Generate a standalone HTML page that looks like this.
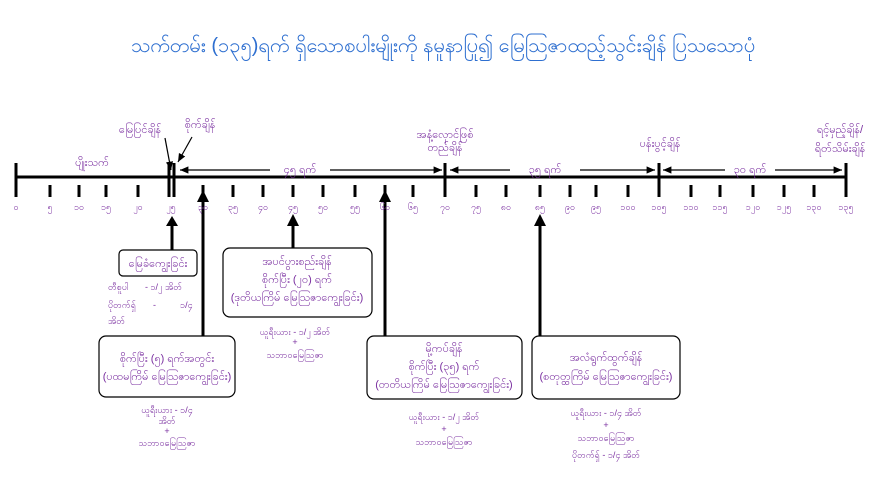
<!DOCTYPE html>
<html><head><meta charset="utf-8"><style>
body{margin:0;background:#fff;width:887px;height:498px;overflow:hidden;font-family:"Liberation Sans","Noto Sans CJK SC",sans-serif;}
svg text{font-family:"Liberation Sans","Noto Sans CJK SC",sans-serif;fill:#7a2fa0;}
</style></head><body>
<svg width="887" height="498" viewBox="0 0 887 498" xmlns="http://www.w3.org/2000/svg">
<defs><marker id="a" markerWidth="8" markerHeight="8" refX="7" refY="4" orient="auto"><path d="M0,1 L7,4 L0,7 z" fill="#000"/></marker></defs>
<text x="443" y="52" font-size="20" text-anchor="middle" style="fill:#2e6fd0">သက်တမ်း (၁၃၅)ရက် ရှိသောစပါးမျိုးကို နမူနာပြု၍ မြေဩဇာထည့်သွင်းချိန် ပြသသောပုံ</text>
<g stroke="#000" stroke-width="3" fill="none">
<line x1="16" y1="177" x2="846" y2="177"/>
<line x1="16" y1="163" x2="16" y2="197"/>
<line x1="169" y1="163" x2="169" y2="197"/>
<line x1="174" y1="163" x2="174" y2="197"/>
<line x1="445" y1="163" x2="445" y2="197"/>
<line x1="659" y1="163" x2="659" y2="197"/>
<line x1="846" y1="163" x2="846" y2="197"/>
<path d="M50 185V197M79 185V197M106 185V197M138 185V197M203 185V197M233 185V197M263 185V197M293 185V197M323 185V197M355 185V197M385 185V197M413 185V197M476 185V197M506 185V197M540 185V197M570 185V197M596 185V197M628 185V197M691 185V197M720 185V197M753 185V197M784 185V197M814 185V197"/>
<line x1="172" y1="225" x2="172" y2="250"/>
<line x1="203" y1="200" x2="203" y2="336"/>
<line x1="293" y1="225" x2="293" y2="248"/>
<line x1="385" y1="200" x2="385" y2="336"/>
<line x1="540" y1="225" x2="540" y2="336"/>
</g>
<g fill="#000"><path d="M166,226 L172,216 L178,226z"/><path d="M197,202 L203,190 L209,202z"/><path d="M287,226 L293,214 L299,226z"/><path d="M379,202 L385,190 L391,202z"/><path d="M534,226 L540,214 L546,226z"/></g>
<g stroke="#000" stroke-width="1.2" fill="none" marker-end="url(#a)">
<line x1="270" y1="170" x2="180" y2="170"/><line x1="330" y1="170" x2="442" y2="170"/>
<line x1="510" y1="170" x2="450" y2="170"/><line x1="580" y1="170" x2="655" y2="170"/>
<line x1="725" y1="170" x2="663" y2="170"/><line x1="775" y1="170" x2="842" y2="170"/>
<line x1="165" y1="138" x2="171" y2="170"/><line x1="192" y1="137" x2="178" y2="162"/>
</g>
<g font-size="11">
<text x="140" y="133" text-anchor="middle">မြေပြင်ချိန်</text>
<text x="200" y="128" text-anchor="middle">စိုက်ချိန်</text>
<text x="92" y="166" text-anchor="middle">ပျိုးသက်</text>
<text x="300" y="173" text-anchor="middle">၄၅ ရက်</text>
<text x="445" y="138" text-anchor="middle">အနံ့လှောင်ဖြစ်</text>
<text x="445" y="151" text-anchor="middle">တည်ချိန်</text>
<text x="545" y="173" text-anchor="middle">၃၅ ရက်</text>
<text x="660" y="147" text-anchor="middle">ပန်းပွင့်ချိန်</text>
<text x="750" y="173" text-anchor="middle">၃၀ ရက်</text>
<text x="840" y="133" text-anchor="middle">ရင့်မှည့်ချိန်/</text>
<text x="840" y="152" text-anchor="middle">ရိတ်သိမ်းချိန်</text>
</g>
<g font-size="9" text-anchor="middle">
<text x="16" y="210">၀</text><text x="50" y="210">၅</text><text x="79" y="210">၁၀</text><text x="106" y="210">၁၅</text><text x="138" y="210">၂၀</text><text x="171" y="210">၂၅</text><text x="203" y="210">၃၀</text><text x="233" y="210">၃၅</text><text x="263" y="210">၄၀</text><text x="293" y="210">၄၅</text><text x="323" y="210">၅၀</text><text x="355" y="210">၅၅</text><text x="385" y="210">၆၀</text><text x="413" y="210">၆၅</text><text x="445" y="210">၇၀</text><text x="476" y="210">၇၅</text><text x="506" y="210">၈၀</text><text x="540" y="210">၈၅</text><text x="570" y="210">၉၀</text><text x="596" y="210">၉၅</text><text x="628" y="210">၁၀၀</text><text x="659" y="210">၁၀၅</text><text x="691" y="210">၁၁၀</text><text x="720" y="210">၁၁၅</text><text x="753" y="210">၁၂၀</text><text x="784" y="210">၁၂၅</text><text x="814" y="210">၁၃၀</text><text x="846" y="210">၁၃၅</text>
</g>
<g stroke="#000" stroke-width="1.2" fill="#fff">
<rect x="119" y="250" width="78" height="26" rx="4"/>
<rect x="99" y="336" width="136" height="61" rx="7"/>
<rect x="223" y="248" width="149" height="69" rx="7"/>
<rect x="367" y="336" width="155" height="63" rx="7"/>
<rect x="532" y="336" width="148" height="63" rx="7"/>
</g>
<g font-size="11" text-anchor="middle">
<text x="158" y="267">မြေခံကျွေးခြင်း</text>
<text x="167" y="362">စိုက်ပြီး (၅) ရက်အတွင်း</text>
<text x="167" y="380">(ပထမကြိမ် မြေဩဇာကျွေးခြင်း)</text>
<text x="297" y="265">အပင်ပွားစည်းချိန်</text>
<text x="297" y="283">စိုက်ပြီး (၂၀) ရက်</text>
<text x="297" y="301">(ဒုတိယကြိမ် မြေဩဇာကျွေးခြင်း)</text>
<text x="444" y="352">မို့ကပ်ချိန်</text>
<text x="444" y="370">စိုက်ပြီး (၃၅) ရက်</text>
<text x="444" y="388">(တတိယကြိမ် မြေဩဇာကျွေးခြင်း)</text>
<text x="606" y="361">အလံရွက်ထွက်ချိန်</text>
<text x="606" y="380">(စတုတ္ထကြိမ် မြေဩဇာကျွေးခြင်း)</text>
</g>
<g font-size="9">
<text x="108" y="290">တီစူပါ</text><text x="145" y="290">- ၁/၂ အိတ်</text>
<text x="108" y="308">ပိုတက်ရှ်</text><text x="153" y="308">-</text><text x="180" y="308">၁/၄</text>
<text x="108" y="324">အိတ်</text>
</g>
<g font-size="9" text-anchor="middle">
<text x="167" y="413">ယူရီးယား - ၁/၄</text><text x="167" y="424">အိတ်</text><text x="167" y="434">+</text><text x="167" y="446">သဘာဝမြေဩဇာ</text>
<text x="295" y="335">ယူရီးယား - ၁/၂ အိတ်</text><text x="295" y="345">+</text><text x="295" y="358">သဘာဝမြေဩဇာ</text>
<text x="444" y="420">ယူရီးယား - ၁/၂ အိတ်</text><text x="444" y="432">+</text><text x="444" y="445">သဘာဝမြေဩဇာ</text>
<text x="606" y="416">ယူရီးယား - ၁/၄ အိတ်</text><text x="606" y="428">+</text><text x="606" y="441">သဘာဝမြေဩဇာ</text><text x="606" y="458">ပိုတက်ရှ် - ၁/၄ အိတ်</text>
</g>
</svg>
</body></html>
